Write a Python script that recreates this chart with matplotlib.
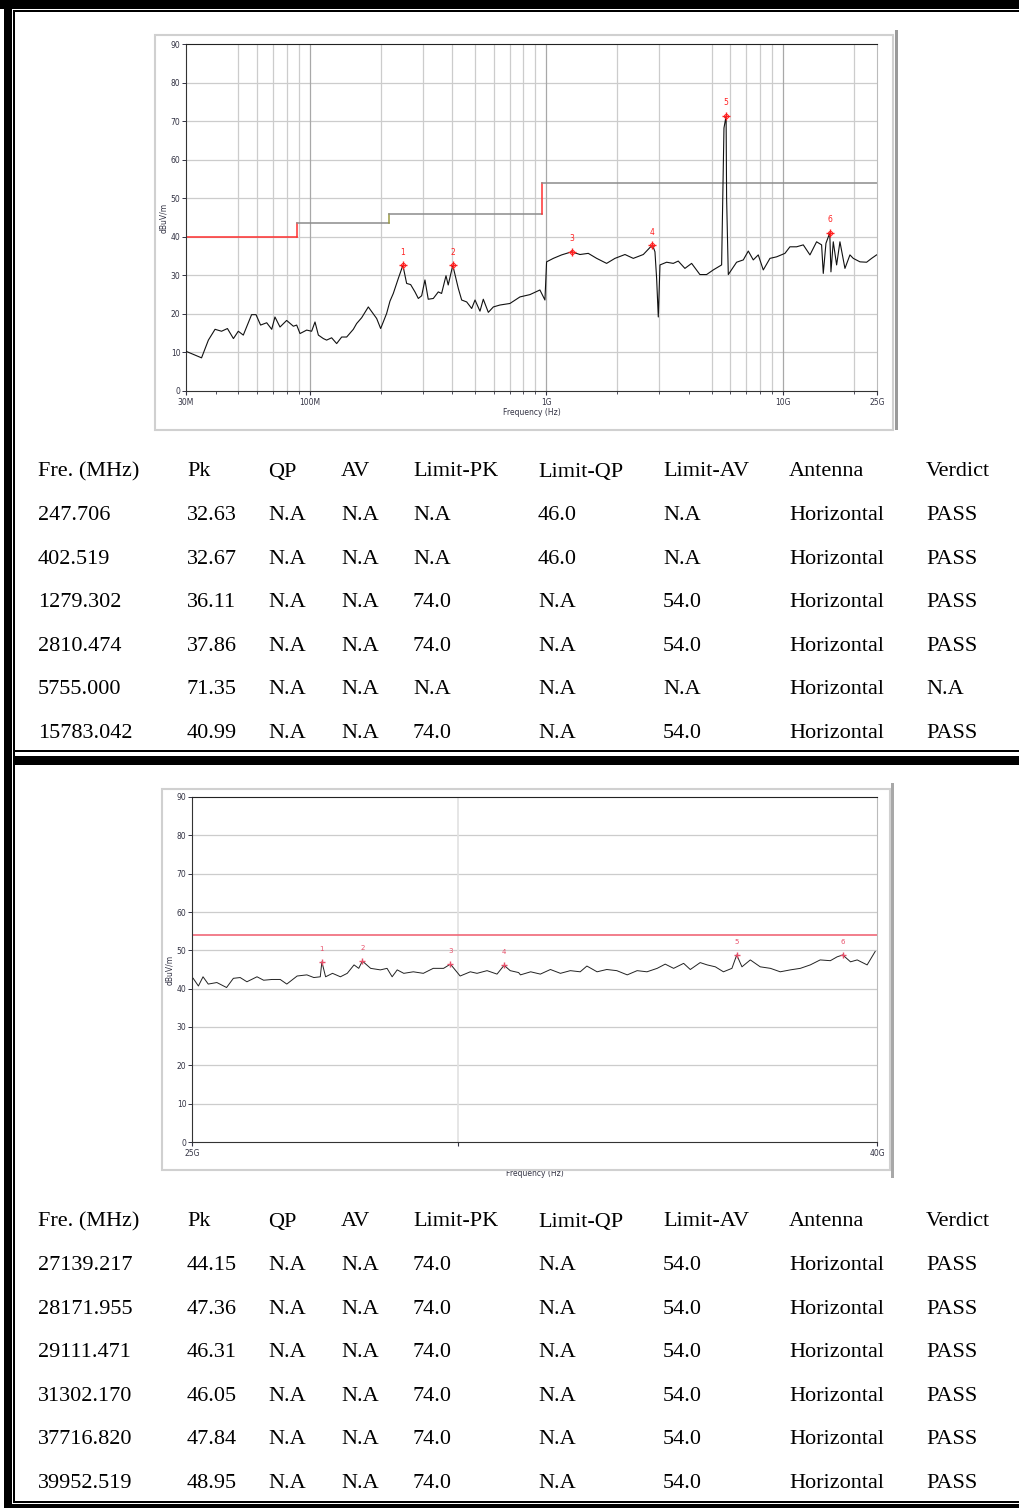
import matplotlib
matplotlib.use('Agg')
import matplotlib.pyplot as plt
from matplotlib.patches import Rectangle
from matplotlib.ticker import NullFormatter, NullLocator

W, H = 1019, 1508

# ---- chart 1 (30 MHz - 25 GHz), trace
trace1_mhz = [30, 34.9, 37.3, 39.8, 42.4, 44.9, 47.6, 49.9, 52.4, 56.8, 59.3, 62.0, 65.8,
              69.1, 71.3, 74.9, 79.9, 85.3, 88.1, 91.0, 97.1, 101.9, 105.3, 108.8, 114.2,
              117.9, 123.8, 130, 136.5, 143.3, 152.9, 157.9, 165.8, 176.9, 185.7, 191.9,
              199.5, 211.4, 218.4, 225.6, 236.9, 247.7, 256.9, 267.1, 278.6, 287.8, 297.3,
              307, 317, 333, 349.6, 361, 376.8, 385, 402.5, 424.8, 438.9, 460.8, 483.9,
              499.8, 524.5, 541.7, 568.9, 597.3, 637, 702, 774, 853, 940, 987, 1003, 1071,
              1161, 1279.3, 1388, 1505, 1633, 1799, 1951, 2151, 2332, 2571, 2810.5, 2880,
              2927, 2975, 3024, 3226, 3442, 3612, 3855, 4115, 4461, 4760, 5079, 5510, 5637,
              5755, 5784, 5880, 6375, 6804, 7143, 7498, 7871, 8265, 8820, 9411, 10206,
              10713, 11433, 12198, 13017, 13887, 14580, 14820, 15210, 15783, 15969, 16335,
              16875, 17430, 18300, 19212, 19845, 21180, 22596, 23721, 24900]
trace1_db = [10.3, 8.6, 13.2, 16.0, 15.5, 16.2, 13.6, 15.5, 14.5, 19.8, 19.8, 17.1, 17.7,
             16.0, 19.2, 16.6, 18.3, 16.8, 17.1, 14.9, 15.8, 15.5, 17.9, 14.5, 13.6,
             13.2, 13.8, 12.3, 14.0, 14.0, 16.0, 17.5, 19.0, 21.8, 20.0, 18.8,
             16.2, 20.1, 23.3, 25.3, 29.2, 32.6, 27.9, 27.6, 25.7, 24.0, 24.7,
             28.8, 23.8, 24.0, 25.7, 25.3, 29.9, 27.5, 32.6, 26.6, 23.6, 23.1, 21.4,
             23.6, 20.7, 23.8, 20.4, 21.8, 22.3, 22.7, 24.4, 25.0, 26.2, 23.6, 33.5, 34.4,
             35.3, 36.1, 35.4, 35.7, 34.4, 33.1, 34.4, 35.4, 34.4, 35.4, 37.9, 36.1,
             29.2, 19.2, 32.7, 33.4, 33.1, 33.7, 31.8, 33.1, 30.2, 30.2, 31.4, 32.7, 68.2,
             71.3, 50.0, 30.2, 33.4, 34.0, 36.3, 34.0, 35.3, 31.4, 34.4, 34.8, 35.7,
             37.4, 37.4, 37.9, 35.3, 38.7, 37.9, 30.5, 38.3, 41.0, 30.9, 38.7,
             32.7, 38.7, 31.8, 35.3, 34.4, 33.5, 33.4, 34.4, 35.3]
limit1_mhz = [30, 88, 88, 216, 216, 960, 960, 25000]
limit1_db = [40, 40, 43.5, 43.5, 46, 46, 54, 54]
mark1_mhz = [247.706, 402.519, 1279.302, 2810.474, 5755.000, 15783.042]
mark1_db = [32.63, 32.67, 36.11, 37.86, 71.35, 40.99]
grid1_mhz = [50, 60, 70, 80, 90, 100, 200, 300, 400, 500, 600, 700, 800, 900, 1000,
             2000, 3000, 5000, 6000, 7000, 8000, 9000, 10000, 20000]
xt1_mhz = [30, 100, 1000, 10000, 25000]
xt1_lab = ['30M', '100M', '1G', '10G', '25G']

# ---- chart 2 (25 GHz - 40 GHz)
trace2_ghz = [25.02, 25.11, 25.19, 25.28, 25.43, 25.60, 25.72, 25.84, 25.96, 26.14, 26.26,
              26.41, 26.56, 26.68, 26.87, 27.05, 27.18, 27.30, 27.33, 27.40, 27.53, 27.68,
              27.81, 27.94, 28.03, 28.10, 28.26, 28.45, 28.58, 28.68, 28.78, 28.91, 29.10,
              29.30, 29.50, 29.71, 29.85, 30.05, 30.26, 30.40, 30.61, 30.82, 30.97, 31.10,
              31.28, 31.32, 31.54, 31.75, 31.97, 32.19, 32.41, 32.63, 32.78, 33.01, 33.23,
              33.46, 33.70, 33.93, 34.16, 34.40, 34.59, 34.79, 35.03, 35.19, 35.43, 35.60,
              35.80, 36.00, 36.21, 36.33, 36.46, 36.67, 36.92, 37.18, 37.43, 37.69, 37.95,
              38.21, 38.47, 38.74, 38.92, 39.07, 39.28, 39.46, 39.73, 39.95]
trace2_db = [42.7, 40.7, 43.1, 41.2, 41.6, 40.3, 42.7, 42.9, 41.8, 43.1, 42.2,
             42.4, 42.4, 41.2, 43.3, 43.6, 42.9, 43.1, 47.0, 43.1, 44.0, 43.1,
             44.0, 46.2, 45.3, 47.2, 45.3, 44.9, 45.3, 43.1, 44.9, 44.0, 44.4,
             44.0, 45.3, 45.3, 46.4, 43.3, 44.4, 44.0, 44.7, 43.8, 46.1, 44.7,
             44.2, 43.6, 44.4, 43.8, 45.0, 44.0, 44.7, 44.4, 45.9, 44.4, 45.0,
             44.7, 43.6, 44.7, 44.4, 45.3, 46.4, 45.3, 46.6, 45.0, 46.8, 46.2,
             45.7, 44.4, 45.3, 48.8, 45.7, 47.5, 45.7, 45.3, 44.4, 44.9, 45.3,
             46.2, 47.5, 47.3, 48.3, 48.8, 47.0, 47.5, 46.2, 49.7]
limit2_db = 54
mark2_ghz = [27.33, 28.10, 29.85, 30.97, 36.33, 39.07]
mark2_db = [47.0, 47.2, 46.4, 46.1, 48.8, 48.8]

# ---- tables
header = ['Fre. (MHz)', 'Pk', 'QP', 'AV', 'Limit-PK', 'Limit-QP', 'Limit-AV', 'Antenna', 'Verdict']
tab1 = [
    ['247.706', '32.63', 'N.A', 'N.A', 'N.A', '46.0', 'N.A', 'Horizontal', 'PASS'],
    ['402.519', '32.67', 'N.A', 'N.A', 'N.A', '46.0', 'N.A', 'Horizontal', 'PASS'],
    ['1279.302', '36.11', 'N.A', 'N.A', '74.0', 'N.A', '54.0', 'Horizontal', 'PASS'],
    ['2810.474', '37.86', 'N.A', 'N.A', '74.0', 'N.A', '54.0', 'Horizontal', 'PASS'],
    ['5755.000', '71.35', 'N.A', 'N.A', 'N.A', 'N.A', 'N.A', 'Horizontal', 'N.A'],
    ['15783.042', '40.99', 'N.A', 'N.A', '74.0', 'N.A', '54.0', 'Horizontal', 'PASS'],
]
tab2 = [
    ['27139.217', '44.15', 'N.A', 'N.A', '74.0', 'N.A', '54.0', 'Horizontal', 'PASS'],
    ['28171.955', '47.36', 'N.A', 'N.A', '74.0', 'N.A', '54.0', 'Horizontal', 'PASS'],
    ['29111.471', '46.31', 'N.A', 'N.A', '74.0', 'N.A', '54.0', 'Horizontal', 'PASS'],
    ['31302.170', '46.05', 'N.A', 'N.A', '74.0', 'N.A', '54.0', 'Horizontal', 'PASS'],
    ['37716.820', '47.84', 'N.A', 'N.A', '74.0', 'N.A', '54.0', 'Horizontal', 'PASS'],
    ['39952.519', '48.95', 'N.A', 'N.A', '74.0', 'N.A', '54.0', 'Horizontal', 'PASS'],
]

fig = plt.figure(figsize=(W / 100, H / 100), dpi=100)


def box(x0, y0, x1, y1):
    return [x0 / W, 1 - y1 / H, (x1 - x0) / W, (y1 - y0) / H]


def rect(x0, y0, x1, y1, **kw):
    fig.add_artist(Rectangle((x0 / W, 1 - y1 / H), (x1 - x0) / W, (y1 - y0) / H,
                             transform=fig.transFigure, **kw))


def ftext(x, y, s, **kw):
    fig.text(x / W, 1 - y / H, s, **kw)


# page borders
rect(0, 0, W, 9, color='black', lw=0)
rect(13, 10, W, 11.5, color='black', lw=0)
rect(4, 0, 12, H, color='black', lw=0)
rect(13, 10, 15, H - 5, color='black', lw=0)
rect(13, 750, W, 752, color='black', lw=0)
rect(13, 756, W, 765, color='black', lw=0)
rect(13, 1501, W, 1503, color='black', lw=0)
rect(4, 1504, W, 1508, color='black', lw=0)

# chart picture frames
rect(155, 35, 893, 430, fill=False, ec='#d0d0d0', lw=1.5)
rect(895, 30, 898, 430, color='#9a9a9a', lw=0)
rect(162, 789, 890, 1170, fill=False, ec='#d0d0d0', lw=1.5)
rect(891, 783, 894, 1178, color='#a8a8a8', lw=0)

tick_col = '#333344'


def style_axes(ax):
    ax.set_ylim(0, 90)
    ax.set_yticks(range(0, 91, 10))
    ax.tick_params(axis='y', labelsize=5.5, length=3, width=0.7, colors=tick_col, pad=1)
    ax.tick_params(axis='x', which='both', labelsize=5.5, colors=tick_col, pad=2)
    for v in range(10, 90, 10):
        ax.axhline(v, color='#cccccc', lw=0.9, zorder=1)
    ax.spines['top'].set_color('#222222')
    ax.spines['left'].set_color('#333333')
    ax.spines['bottom'].set_color('#333333')
    ax.spines['right'].set_color('#bbbbbb')
    ax.set_ylabel('dBuV/m', fontsize=5.5, color=tick_col, labelpad=2)


# ---------- chart 1
ax1 = fig.add_axes(box(186, 44, 877, 391))
ax1.set_xscale('log')
ax1.set_xlim(30, 25000)
style_axes(ax1)
for g in grid1_mhz:
    ax1.axvline(g, color='#a8a8a8' if g in (100, 1000, 10000) else '#cccccc', lw=0.9, zorder=1)
ax1.set_xticks(xt1_mhz)
ax1.set_xticklabels(xt1_lab)
ax1.xaxis.set_minor_formatter(NullFormatter())
ax1.tick_params(axis='x', which='major', length=3)
ax1.tick_params(axis='x', which='minor', length=2)
ax1.set_xlabel('Frequency (Hz)', fontsize=5.5, color=tick_col, labelpad=1)

seg_cols = ['#ff3030', '#ff3030', '#8c8c8c', '#9a9a40', '#8c8c8c', '#ff3030', '#8c8c8c']
for i in range(len(limit1_mhz) - 1):
    ax1.plot(limit1_mhz[i:i + 2], limit1_db[i:i + 2], color=seg_cols[i], lw=1.1, zorder=2)
ax1.plot(trace1_mhz, trace1_db, color='#111111', lw=0.8, zorder=3)
ax1.plot(mark1_mhz, mark1_db, ls='none', marker='+', ms=6, mew=1, color='#ff2020', zorder=4)
ax1.plot(mark1_mhz, mark1_db, ls='none', marker='o', ms=3, mfc='none', mew=0.7, color='#ff2020', zorder=4)
for i, (f, v) in enumerate(zip(mark1_mhz, mark1_db)):
    ax1.text(f, v + 2.2, str(i + 1), color='#ff2020', fontsize=5.5, ha='center', va='bottom', zorder=5)

# ---------- chart 2
ax2 = fig.add_axes(box(192, 797, 877, 1142))
ax2.set_xscale('log')
ax2.set_xlim(25, 40)
style_axes(ax2)
ax2.axvline(30, color='#e2e2e2', lw=1.2, zorder=1)
ax2.set_xticks([25, 30, 40])
ax2.set_xticklabels(['25G', '', '40G'])
ax2.xaxis.set_minor_locator(NullLocator())
ax2.tick_params(axis='x', which='major', length=3)
ax2.set_xlabel('Frequency (Hz)', fontsize=5.5, color=tick_col, labelpad=8)
ax2.axhline(limit2_db, color='#f06878', lw=1.2, zorder=2)
ax2.plot(trace2_ghz, trace2_db, color='#222222', lw=0.7, zorder=3)
ax2.plot(mark2_ghz, mark2_db, ls='none', marker='+', ms=5, mew=1, color='#e8506a', zorder=4)
for i, (f, v) in enumerate(zip(mark2_ghz, mark2_db)):
    ax2.text(f, v + 2.6, str(i + 1), color='#e8506a', fontsize=5, ha='center', va='bottom', zorder=5)

# ---------- tables
col_x = [38, 187, 268, 341, 413, 538, 663, 789, 926]
serif = 'Liberation Serif'


def draw_table(y0, rows):
    for cx, s in zip(col_x, header):
        ftext(cx, y0, s, family=serif, fontsize=16, va='center', ha='left')
    for r, row in enumerate(rows):
        y = y0 + 43.6 * (r + 1)
        for cx, s in zip(col_x, row):
            ftext(cx, y, s, family=serif, fontsize=16, va='center', ha='left')


draw_table(472, tab1)
draw_table(1222, tab2)

fig.savefig('out.png', dpi=100)
